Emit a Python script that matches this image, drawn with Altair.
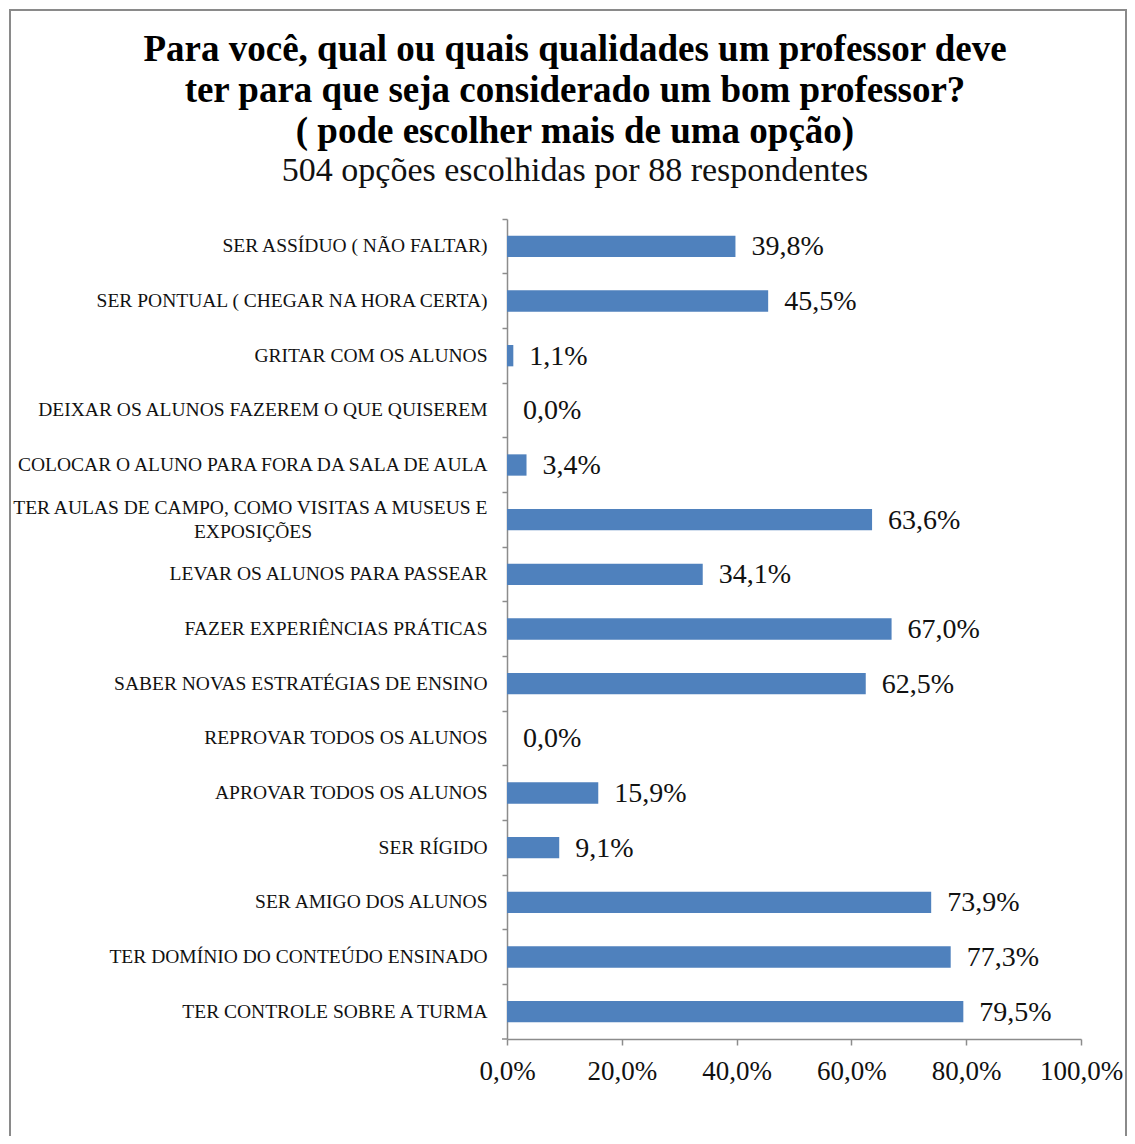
import altair as alt
import pandas as pd

categories = [
    "SER ASSÍDUO ( NÃO FALTAR)",
    "SER PONTUAL ( CHEGAR NA HORA CERTA)",
    "GRITAR COM OS ALUNOS",
    "DEIXAR OS ALUNOS FAZEREM O QUE QUISEREM",
    "COLOCAR O ALUNO PARA FORA DA SALA DE AULA",
    "TER AULAS DE CAMPO, COMO VISITAS A MUSEUS E|EXPOSIÇÕES",
    "LEVAR OS ALUNOS PARA PASSEAR",
    "FAZER EXPERIÊNCIAS PRÁTICAS",
    "SABER NOVAS ESTRATÉGIAS DE ENSINO",
    "REPROVAR TODOS OS ALUNOS",
    "APROVAR TODOS OS ALUNOS",
    "SER RÍGIDO",
    "SER AMIGO DOS ALUNOS",
    "TER DOMÍNIO DO CONTEÚDO ENSINADO",
    "TER CONTROLE SOBRE A TURMA",
]
values = [39.8, 45.5, 1.1, 0.0, 3.4, 63.6, 34.1, 67.0, 62.5, 0.0, 15.9, 9.1, 73.9, 77.3, 79.5]
x_ticks = [0, 20, 40, 60, 80, 100]

title_lines = [
    "Para você, qual ou quais qualidades um professor deve",
    "ter para que seja considerado um bom professor?",
    "( pode escolher mais de uma opção)",
]
subtitle = "504 opções escolhidas por 88 respondentes"

df = pd.DataFrame({"cat": categories, "v": values})

FONT = "Liberation Serif"
GRAY = "#8c8c8c"
BLUE = "#4f81bd"
PAD = "\u00a0" * 36 + "\u200b"

W, H = 574, 820

label_expr = (
    "length(split(datum.label, '|')) > 1 ? "
    "[split(datum.label, '|')[0], split(datum.label, '|')[1] + '" + PAD + "'] : datum.label"
)

y_enc = alt.Y(
    "cat:N",
    sort=categories,
    scale=alt.Scale(paddingInner=0, paddingOuter=0),
    axis=alt.Axis(
        title=None,
        bandPosition=0,
        domainColor=GRAY,
        domainWidth=1.5,
        tickColor=GRAY,
        tickWidth=1.5,
        tickSize=5,
        labelPadding=15,
        labelLimit=0,
        labelFontSize=19.5,
        labelLineHeight=24,
        labelOffset={"condition": {"test": "indexof(datum.value, '|') >= 0", "value": -12}, "value": 0},
        labelColor="#111111",
        labelFont=FONT,
        labelExpr=label_expr,
    ),
)

x_enc = alt.X(
    "v:Q",
    scale=alt.Scale(domain=[0, 100], nice=False),
    axis=alt.Axis(
        title=None,
        values=x_ticks,
        grid=False,
        labelFlush=False,
        domainColor=GRAY,
        domainWidth=1.5,
        tickColor=GRAY,
        tickWidth=1.5,
        tickSize=6,
        labelPadding=13,
        labelFontSize=27,
        labelColor="#111111",
        labelFont=FONT,
        labelExpr="replace(format(datum.value, '.1f'), '.', ',') + '%'",
    ),
)

base = alt.Chart(df)

bars = base.mark_bar(color=BLUE, height={"band": 0.39}).encode(x=x_enc, y=y_enc)

labels = base.mark_text(
    align="left", baseline="middle", dx=16, dy=1, fontSize=28, font=FONT, color="#111111"
).transform_calculate(
    lab="replace(format(datum.v, '.1f'), '.', ',') + '%'"
).encode(
    x=alt.X("v:Q"), y=alt.Y("cat:N", sort=categories), text="lab:N"
)

one = pd.DataFrame({"a": [0]})

frame = alt.Chart(one).mark_rect(
    fill=None, stroke="#8a8a8a", strokeWidth=2, clip=False
).encode(
    x=alt.value(-497), x2=alt.value(619), y=alt.value(-209), y2=alt.value(960)
)

corner_tick = alt.Chart(one).mark_rule(color=GRAY, strokeWidth=1.5).encode(
    x=alt.value(-5), x2=alt.value(0), y=alt.value(H)
)

title_layers = []
for line, yb in zip(title_lines, [-158, -117, -76]):
    title_layers.append(
        alt.Chart(one).mark_text(
            text=line, font=FONT, fontSize=37, fontWeight="bold", color="#000000",
            align="center", baseline="alphabetic",
        ).encode(x=alt.value(68), y=alt.value(yb))
    )
sub_layer = alt.Chart(one).mark_text(
    text=subtitle, font=FONT, fontSize=34, color="#111111",
    align="center", baseline="alphabetic",
).encode(x=alt.value(68), y=alt.value(-38))

chart = alt.layer(frame, corner_tick, bars, labels, *title_layers, sub_layer).properties(
    width=W,
    height=H,
    autosize=alt.AutoSizeParams(type="none"),
    padding={"left": 499, "top": 211, "right": 1119 - 499 - W, "bottom": 1128 - 211 - H},
).configure(background="white", font=FONT).configure_view(stroke=None)

chart.save("out.html", embed_options={"renderer": "svg", "actions": False})
